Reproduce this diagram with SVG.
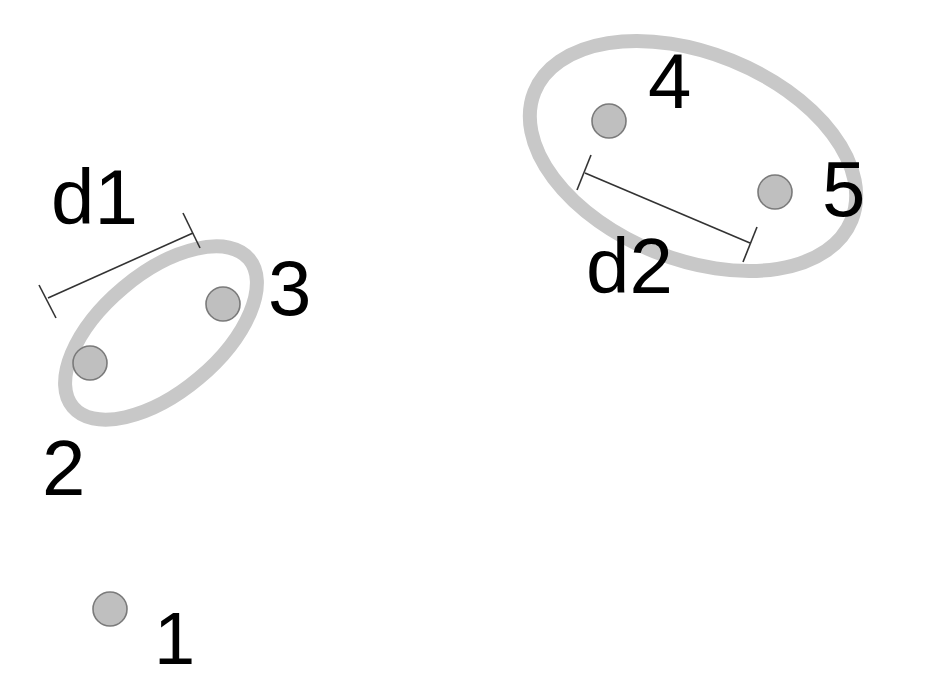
<svg xmlns="http://www.w3.org/2000/svg" width="932" height="682" viewBox="0 0 932 682">
<style>
.cluster{fill:none;stroke:#c8c8c8;stroke-width:14}
.pt{fill:#bfbfbf;stroke:#7a7a7a;stroke-width:1.6}
.lbl{font-family:"Liberation Sans",Arial,sans-serif;font-size:78px;fill:#000}
.dist{stroke:#333;stroke-width:1.6;fill:none}
</style>
<rect width="932" height="682" fill="#fff"/>
<g id="clusters">
<ellipse class="cluster" cx="161" cy="333" rx="115" ry="59" transform="rotate(-40 161 333)"/>
<ellipse class="cluster" cx="693" cy="156" rx="171" ry="103" transform="rotate(22 693 156)"/>
</g>
<g id="connectors">
<g id="d1-line">
<line class="dist" x1="48" y1="298" x2="193" y2="233"/>
<line class="dist" x1="39" y1="285" x2="56" y2="318"/>
<line class="dist" x1="183" y1="213" x2="200" y2="248"/>
</g>
<g id="d2-line">
<line class="dist" stroke="#444" stroke-width="1.2" x1="585" y1="173" x2="750" y2="243"/>
<line class="dist" stroke="#444" stroke-width="1.2" x1="591" y1="155" x2="577" y2="190"/>
<line class="dist" stroke="#444" stroke-width="1.2" x1="757" y1="227" x2="743" y2="262"/>
</g>
</g>
<g id="node1"><circle class="pt" cx="110" cy="609" r="17"/><text class="lbl" x="154" y="664" style="font-size:74px">1</text></g>
<g id="node2"><circle class="pt" cx="90" cy="363" r="17"/><text class="lbl" x="42" y="495">2</text></g>
<g id="node3"><circle class="pt" cx="223" cy="304" r="17"/><text class="lbl" x="268" y="315">3</text></g>
<g id="node4"><circle class="pt" cx="609" cy="121" r="17"/><text class="lbl" x="648" y="108">4</text></g>
<g id="node5"><circle class="pt" cx="775" cy="192" r="17"/><text class="lbl" x="822" y="216">5</text></g>
<g id="labels">
<text class="lbl" x="51" y="224">d1</text>
<text class="lbl" x="586" y="293">d2</text>
</g>
</svg>
